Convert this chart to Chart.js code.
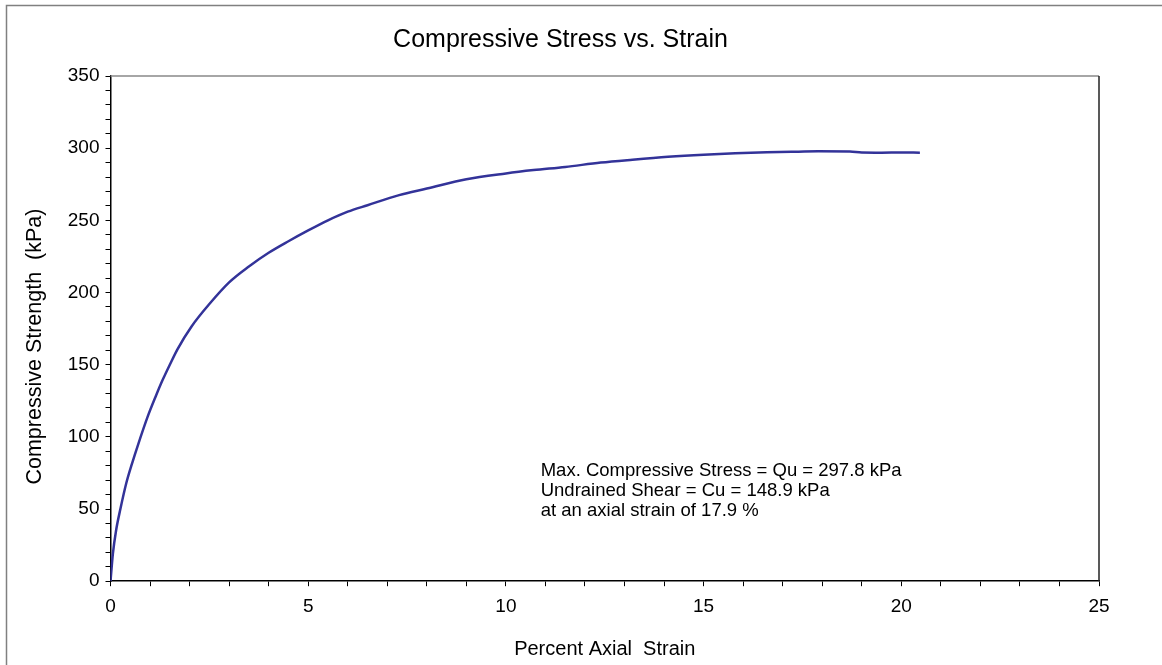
<!DOCTYPE html>
<html>
<head>
<meta charset="utf-8">
<script src="https://cdn.jsdelivr.net/npm/chart.js@4/dist/chart.umd.min.js"></script>
<style>
  html, body { margin: 0; padding: 0; background: #fff; }
  #wrap { width: 1162px; height: 665px; position: relative; }
</style>
</head>
<body>
<div id="wrap"><canvas id="c"></canvas></div>
<script>
var strain = [0, 0.06, 0.14, 0.25, 0.4, 0.55, 0.69, 0.94, 1.15, 1.32, 1.5, 1.7, 2.05, 2.5, 3.0, 3.5, 4.0, 4.5, 5.0, 5.5, 6.0, 6.5, 7.3, 8.0, 9.0, 10.0, 10.7, 11.5, 12.4, 13.2, 14.1, 15.0, 15.8, 16.6, 17.4, 17.9, 18.7, 19.0, 19.5, 20.0, 20.47];
var stress = [0, 19, 35, 50, 68, 82, 94, 114, 128.5, 139.5, 150, 161, 176.5, 192, 207, 218, 227.5, 235.5, 243, 250, 256, 260.5, 267.5, 272, 278.5, 282.5, 284.8, 287, 290, 292, 294, 295.5, 296.5, 297.2, 297.6, 297.8, 297.7, 297.0, 296.9, 297.0, 296.9];
var xTickLabels = ['0', '5', '10', '15', '20', '25'];
var yTickLabels = ['0', '50', '100', '150', '200', '250', '300', '350'];
var noteLines = [
  'Max. Compressive Stress = Qu = 297.8 kPa',
  'Undrained Shear = Cu = 148.9 kPa',
  'at an axial strain of 17.9 %'
];

var pts = strain.map(function (s, i) { return { x: s, y: stress[i] }; });
var font = 'Arial, "Liberation Sans", sans-serif';

// frame, outer border and the note text
var extras = {
  id: 'extras',
  afterDraw: function (chart) {
    var c = chart.ctx, a = chart.chartArea;
    c.save();
    c.strokeStyle = '#808080';
    c.lineWidth = 1.5;
    c.beginPath();
    c.moveTo(6.5, 665); c.lineTo(6.5, 5.5); c.lineTo(1162, 5.5);
    c.stroke();
    c.strokeStyle = '#888';
    c.beginPath();
    c.moveTo(a.left, a.top); c.lineTo(a.right, a.top);
    c.stroke();
    c.strokeStyle = '#222';
    c.beginPath();
    c.moveTo(a.right, a.top); c.lineTo(a.right, a.bottom);
    c.stroke();
    c.fillStyle = '#000';
    c.font = '18.5px ' + font;
    c.textBaseline = 'middle';
    var x = chart.scales.x.getPixelForValue(10.88);
    var y = chart.scales.y.getPixelForValue(76.5);
    noteLines.forEach(function (t, i) { c.fillText(t, x, y + i * 20); });
    c.restore();
  }
};

new Chart(document.getElementById('c'), {
  type: 'line',
  data: {
    datasets: [{
      data: pts,
      borderColor: '#333399',
      borderWidth: 2.5,
      pointRadius: 0,
      fill: false,
      cubicInterpolationMode: 'monotone'
    }]
  },
  options: {
    responsive: true,
    maintainAspectRatio: false,
    animation: false,
    layout: { padding: { top: 10, right: 63, bottom: 4, left: 22 } },
    plugins: {
      legend: { display: false },
      tooltip: { enabled: false },
      title: {
        display: true,
        text: 'Compressive Stress vs. Strain',
        color: '#000',
        font: { family: font, size: 25, weight: 'normal' },
        padding: { top: 15, bottom: 21 }
      }
    },
    scales: {
      x: {
        type: 'linear',
        min: 0, max: 25,
        ticks: {
          stepSize: 1,
          autoSkip: false,
          maxRotation: 0,
          color: '#000',
          font: { family: font, size: 19 },
          padding: 9,
          callback: function (v) { return v % 5 === 0 ? xTickLabels[v / 5] : ''; }
        },
        grid: { drawOnChartArea: false, tickLength: 5, color: '#000', lineWidth: 1 },
        border: { color: '#000', width: 1.5 },
        title: {
          display: true,
          text: 'Percent Axial  Strain',
          color: '#000',
          font: { family: font, size: 20 },
          padding: { top: 10, bottom: 0 }
        }
      },
      y: {
        type: 'linear',
        min: 0, max: 350,
        ticks: {
          stepSize: 10,
          autoSkip: false,
          color: '#000',
          font: { family: font, size: 19 },
          padding: 6,
          callback: function (v) { return v % 50 === 0 ? yTickLabels[v / 50] : ''; }
        },
        grid: { drawOnChartArea: false, tickLength: 5, color: '#000', lineWidth: 1 },
        border: { color: '#000', width: 1.5 },
        title: {
          display: true,
          text: 'Compressive Strength  (kPa)      ',
          color: '#000',
          font: { family: font, size: 21.5 },
          padding: { top: 0, bottom: 14 }
        }
      }
    }
  },
  plugins: [extras]
});
</script>
</body>
</html>
